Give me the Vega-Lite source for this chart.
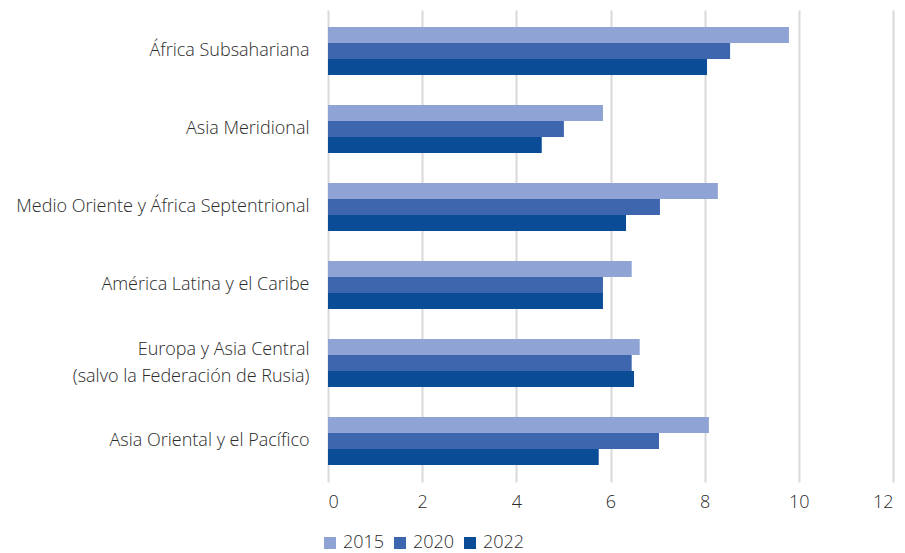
{
  "$schema": "https://vega.github.io/schema/vega-lite/v6.json",
  "autosize": {"type": "none"},
  "width": 565,
  "height": 472,
  "padding": {"left": 328, "top": 10, "right": 12, "bottom": 71},
  "background": "white",
  "config": {
    "view": {"stroke": null},
    "font": "Open Sans",
    "axis": {"labelFont": "Open Sans", "labelColor": "#2b2b2b", "labelFontSize": 18, "labelFontWeight": 300}
  },
  "data": {
    "values": [
      {"region": "África Subsahariana", "year": "2015", "value": 9.79},
      {"region": "África Subsahariana", "year": "2020", "value": 8.54},
      {"region": "África Subsahariana", "year": "2022", "value": 8.05},
      {"region": "Asia Meridional", "year": "2015", "value": 5.84},
      {"region": "Asia Meridional", "year": "2020", "value": 5.01},
      {"region": "Asia Meridional", "year": "2022", "value": 4.54},
      {"region": "Medio Oriente y África Septentrional", "year": "2015", "value": 8.28},
      {"region": "Medio Oriente y África Septentrional", "year": "2020", "value": 7.05},
      {"region": "Medio Oriente y África Septentrional", "year": "2022", "value": 6.33},
      {"region": "América Latina y el Caribe", "year": "2015", "value": 6.45},
      {"region": "América Latina y el Caribe", "year": "2020", "value": 5.84},
      {"region": "América Latina y el Caribe", "year": "2022", "value": 5.84},
      {"region": "Europa y Asia Central |(salvo la Federación de Rusia)", "year": "2015", "value": 6.62},
      {"region": "Europa y Asia Central |(salvo la Federación de Rusia)", "year": "2020", "value": 6.45},
      {"region": "Europa y Asia Central |(salvo la Federación de Rusia)", "year": "2022", "value": 6.5},
      {"region": "Asia Oriental y el Pacífico", "year": "2015", "value": 8.09},
      {"region": "Asia Oriental y el Pacífico", "year": "2020", "value": 7.03},
      {"region": "Asia Oriental y el Pacífico", "year": "2022", "value": 5.75}
    ]
  },
  "mark": {"type": "bar"},
  "encoding": {
    "y": {
      "field": "region",
      "type": "nominal",
      "sort": null,
      "scale": {"paddingInner": 0.385, "paddingOuter": 0.218},
      "axis": {
        "title": null,
        "ticks": false,
        "domain": false,
        "labelPadding": 19,
        "labelLimit": 400,
        "labelLineHeight": 27,
        "labelOffset": {"condition": {"test": "indexof(datum.value, '|') >= 0", "value": -13.5}, "value": 0},
        "labelExpr": "split(datum.label, '|')"
      }
    },
    "yOffset": {"field": "year", "type": "nominal", "sort": ["2015", "2020", "2022"]},
    "x": {
      "field": "value",
      "type": "quantitative",
      "scale": {"domain": [0, 12], "nice": false},
      "axis": {
        "title": null,
        "values": [0, 2, 4, 6, 8, 10, 12],
        "ticks": false,
        "domain": false,
        "grid": true,
        "gridColor": "#D9D9D9",
        "gridWidth": 2,
        "labelPadding": 11
      }
    },
    "color": {
      "field": "year",
      "type": "nominal",
      "scale": {"domain": ["2015", "2020", "2022"], "range": ["#8FA3D4", "#3D66AE", "#0B4C97"]},
      "legend": {
        "title": null,
        "orient": "none",
        "direction": "horizontal",
        "legendX": -7,
        "legendY": 524,
        "symbolType": "square",
        "symbolSize": 144,
        "symbolStrokeWidth": 0,
        "labelFont": "Open Sans",
        "labelFontWeight": 300,
        "labelFontSize": 18,
        "labelColor": "#2b2b2b",
        "columnPadding": 6,
        "labelOffset": 4
      }
    }
  }
}
